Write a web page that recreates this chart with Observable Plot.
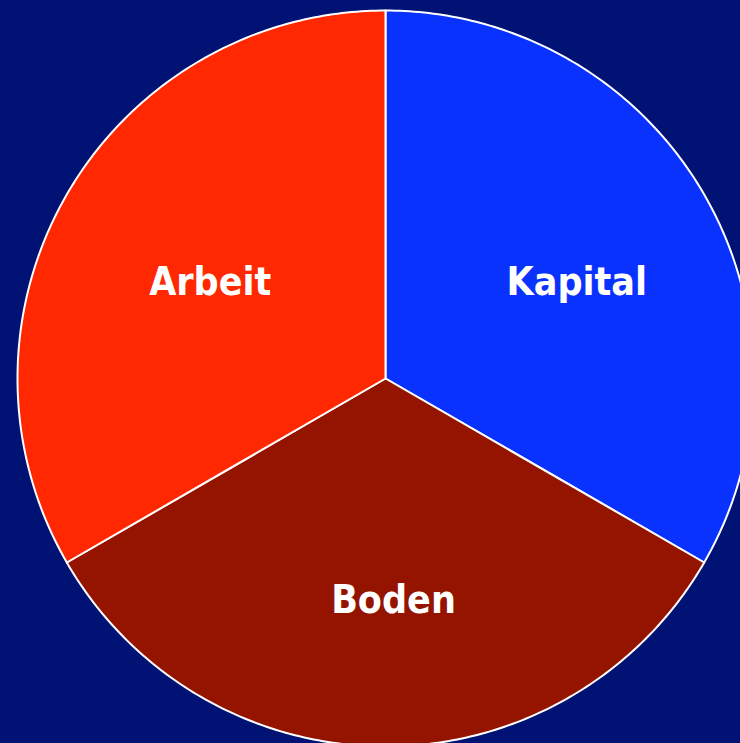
<!DOCTYPE html>
<html>
<head>
<meta charset="utf-8">
<script src="https://cdn.jsdelivr.net/npm/d3@7"></script>
<script src="https://cdn.jsdelivr.net/npm/@observablehq/plot@0.6"></script>
<style>
  html, body { margin: 0; padding: 0; background: #001273; overflow: hidden; }
  #chart { width: 740px; height: 743px; }
</style>
</head>
<body>
<div id="chart"></div>
<script>
const categories = ["Kapital", "Boden", "Arbeit"];
const values = [1, 1, 1];
const colors = ["#0a32ff", "#941400", "#ff2800"];

const R = 368;
const pie = d3.pie().sort(null)(values);

// polygon outlines of each slice (y up, angle clockwise from north)
const outline = [];
pie.forEach((p, i) => {
  outline.push({cat: categories[i], x: 0, y: 0});
  const n = 160;
  for (let k = 0; k <= n; k++) {
    const a = p.startAngle + (p.endAngle - p.startAngle) * k / n;
    outline.push({cat: categories[i], x: R * Math.sin(a), y: R * Math.cos(a)});
  }
});

const labels = pie.map((p, i) => {
  const a = (p.startAngle + p.endAngle) / 2;
  return {cat: categories[i], x: 0.575 * R * Math.sin(a), y: 0.575 * R * Math.cos(a)};
});

const chart = Plot.plot({
  width: 740,
  height: 743,
  margin: 0,
  x: {domain: [-385, 355], axis: null},
  y: {domain: [-365, 378], axis: null},
  color: {domain: categories, range: colors},
  style: {background: "#001273"},
  marks: [
    Plot.line(outline, {
      x: "x", y: "y", z: "cat", fill: "cat",
      stroke: "white", strokeWidth: 2, curve: "linear-closed"
    }),
    Plot.text(labels, {
      x: "x", y: "y", text: "cat",
      fill: "white", fontSize: 39, fontWeight: "bold",
      fontFamily: "'DejaVu Sans Condensed', 'DejaVu Sans', sans-serif",
      dx: 8, dy: 10
    })
  ]
});
document.getElementById("chart").appendChild(chart);
</script>
</body>
</html>
